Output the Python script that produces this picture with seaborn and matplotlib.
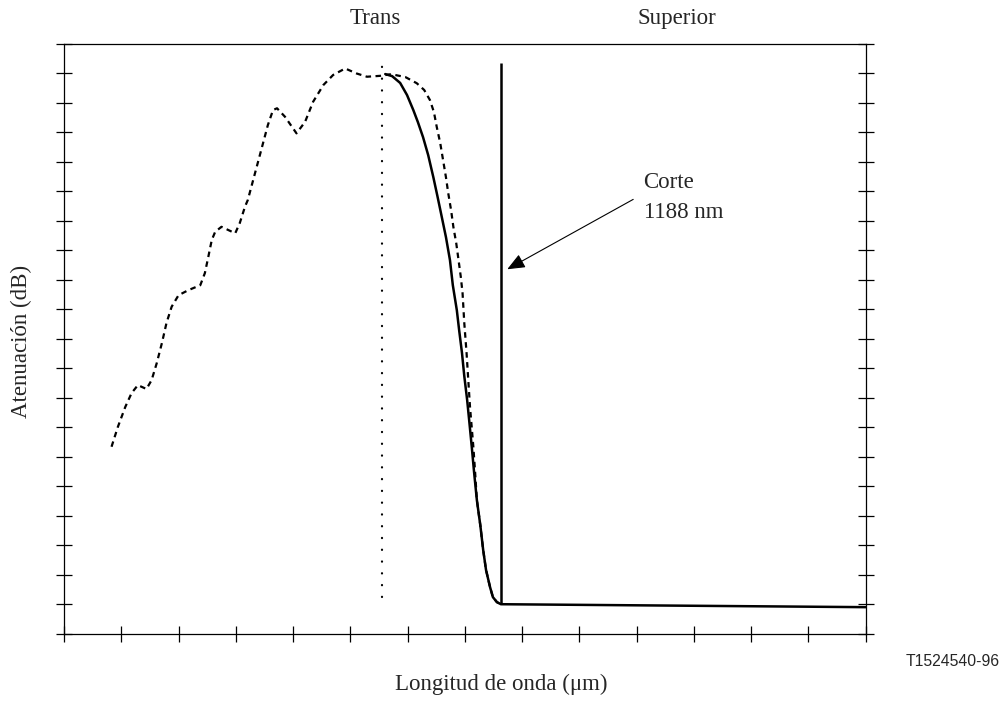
import numpy as np
import pandas as pd
import matplotlib
matplotlib.use("Agg")
import matplotlib.pyplot as plt
import seaborn as sns

# ---- data (arbitrary axis units: x 0..14 ticks, y 0..20 ticks) ----
dashed_x = [0.83, 0.94, 1.07, 1.18, 1.29, 1.44, 1.53, 1.62, 1.71, 1.79, 1.88, 2.00,
            2.17, 2.38, 2.46, 2.52, 2.58, 2.64, 2.75, 2.99, 3.07, 3.16, 3.21, 3.42,
            3.56, 3.65, 3.72, 3.86, 4.06, 4.21, 4.35, 4.53, 4.70, 4.91, 5.11, 5.29,
            5.52, 5.69, 5.78, 5.96, 6.16, 6.29, 6.39, 6.46, 6.51, 6.57, 6.62, 6.67,
            6.71, 6.76, 6.80, 6.85, 6.89, 6.93, 6.96, 6.99, 7.03, 7.06, 7.09, 7.12,
            7.15, 7.18, 7.21, 7.27, 7.32, 7.37, 7.44, 7.49, 7.56, 7.63]
dashed_y = [6.34, 7.01, 7.69, 8.16, 8.43, 8.30, 8.60, 9.18, 9.86, 10.54, 11.09, 11.48,
            11.65, 11.82, 12.23, 12.78, 13.35, 13.63, 13.80, 13.58, 13.93, 14.48, 14.71, 16.23,
            17.25, 17.76, 17.82, 17.53, 16.97, 17.36, 18.04, 18.61, 18.95, 19.17, 19.00, 18.89,
            18.92, 18.97, 18.95, 18.88, 18.67, 18.44, 18.10, 17.69, 17.18, 16.64, 16.06, 15.48,
            14.94, 14.36, 13.79, 13.24, 12.67, 12.09, 11.55, 10.54, 9.52, 8.60, 7.69, 7.00,
            6.30, 5.45, 4.53, 3.68, 2.84, 2.16, 1.58, 1.24, 1.07, 1.00]

solid_x = [5.61, 5.73, 5.87, 5.99, 6.10, 6.18, 6.27, 6.36, 6.45, 6.52, 6.59, 6.67,
           6.74, 6.79, 6.86, 6.90, 6.95, 6.99, 7.04, 7.08, 7.12, 7.16, 7.21, 7.27,
           7.32, 7.37, 7.44, 7.49, 7.56, 7.63, 14.0]
solid_y = [18.98, 18.91, 18.68, 18.27, 17.76, 17.35, 16.84, 16.23, 15.48, 14.85, 14.20, 13.45,
           12.67, 11.82, 10.97, 10.30, 9.52, 8.74, 7.93, 7.15, 6.35, 5.50, 4.53, 3.68,
           2.84, 2.16, 1.58, 1.24, 1.07, 1.00, 0.90]

cutoff_x = 7.63
cutoff_span = [1.00, 19.35]
trans_x = 5.56
trans_span = [1.24, 19.28]

arrow_tip = (7.74, 12.36)
arrow_tail = (9.94, 14.73)

region_labels = ["Trans", "Superior"]
region_x = [5.445, 10.71]
x_ticks = list(range(0, 15))
y_ticks = list(range(0, 21))

# ---- style ----
sns.set_theme(style="ticks")
plt.rcParams["font.family"] = ["Liberation Serif", "DejaVu Serif"]

fig = plt.figure(figsize=(10.07, 7.02), dpi=100)
ax = fig.add_axes([64 / 1007, 1 - 633.7 / 702, (865.7 - 64) / 1007, (633.7 - 44) / 702])

df_dash = pd.DataFrame({"x": dashed_x, "y": dashed_y})
df_solid = pd.DataFrame({"x": solid_x, "y": solid_y})

sns.lineplot(data=df_dash, x="x", y="y", ax=ax, color="black", lw=1.6,
             estimator=None, sort=False, linestyle=(0, (2.5, 2.0)),
             dash_joinstyle="round")
sns.lineplot(data=df_solid, x="x", y="y", ax=ax, color="black", lw=1.8,
             estimator=None, sort=False, solid_joinstyle="round",
             solid_capstyle="round")
ax.vlines(cutoff_x, cutoff_span[0], cutoff_span[1], color="black", lw=1.8)
ax.vlines(trans_x, trans_span[0], trans_span[1], color="black", lw=1.6,
          linestyles=[(0, (0.1, 5.2))], capstyle="round")

ax.annotate("", xy=arrow_tip, xytext=arrow_tail,
            arrowprops=dict(arrowstyle="-|>,head_length=0.6,head_width=0.25",
                            color="black", lw=0.8, mutation_scale=18,
                            shrinkA=0, shrinkB=0))
ax.text(10.12, 15.30, "Corte", fontsize=16.5, ha="left", va="center")
ax.text(10.12, 14.30, "1188 nm", fontsize=16.5, ha="left", va="center")

for lab, xx in zip(region_labels, region_x):
    ax.text(xx, 20.88, lab, fontsize=16.5, ha="center", va="center", clip_on=False)

ax.set_xlim(0, 14)
ax.set_ylim(0, 20)
ax.set_xticks(x_ticks)
ax.set_yticks(y_ticks)
ax.set_xticklabels([])
ax.set_yticklabels([])
ax.set_xlabel("")
ax.set_ylabel("")
ax.tick_params(axis="x", direction="inout", length=11.5, width=0.9, color="black",
               top=False, bottom=True)
ax.tick_params(axis="y", direction="inout", length=11.5, width=0.9, color="black",
               left=True, right=True)
for s in ax.spines.values():
    s.set_color("black")
    s.set_linewidth(0.9)

fig.text(21.7 / 1007, 1 - 341 / 702, "Atenuación (dB)", rotation=90,
         fontsize=16.5, ha="center", va="center")
fig.text(500.8 / 1007, 1 - 684 / 702, "Longitud de onda (μm)",
         fontsize=16.5, ha="center", va="center")
fig.text(1000 / 1007, 1 - 661.7 / 702, "T1524540-96", fontsize=11.3,
         ha="right", va="center", family=["Liberation Sans", "DejaVu Sans"])

fig.savefig("out.png", dpi=100, facecolor="white")
